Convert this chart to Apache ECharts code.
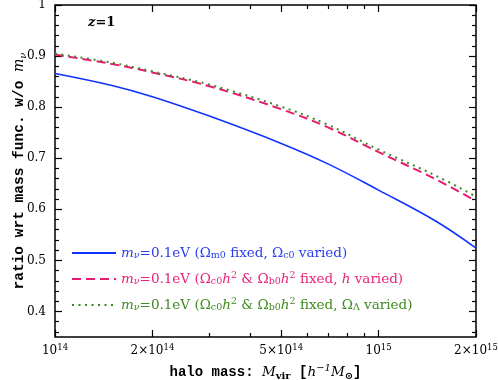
<!DOCTYPE html>
<html>
<head>
<meta charset="utf-8">
<script src="https://cdn.jsdelivr.net/npm/echarts@6/dist/echarts.min.js"></script>
<style>html,body{margin:0;padding:0;background:#fff}#c{width:498px;height:380px}</style>
</head>
<body>
<div id="c"></div>
<script>
// halo mass [h^-1 Msun]
var masses = [1e14, 1.5e14, 2e14, 3e14, 5e14, 7e14, 1e15, 1.5e15, 2e15];
// ratio with m_nu = 0.1 eV relative to without
var ratioOmFixed   = [0.866, 0.8425, 0.8205, 0.7825, 0.729, 0.6885, 0.6375, 0.577, 0.524];
var ratioHVaried   = [0.903, 0.8845, 0.868, 0.841, 0.796, 0.760, 0.712, 0.659, 0.616];
var ratioOLVaried  = [0.905, 0.887, 0.870, 0.844, 0.801, 0.765, 0.717, 0.666, 0.625];

var xMajorTicks = [1e14, 2e14, 5e14, 1e15, 2e15];
var xTickLabels = ['{n|10}{p|14}', '{n|2×10}{p|14}', '{n|5×10}{p|14}', '{n|10}{p|15}', '{n|2×10}{p|15}'];
var xMinorTicks = [3e14, 4e14, 6e14, 7e14, 8e14, 9e14];
var yMajorTicks = [0.4, 0.5, 0.6, 0.7, 0.8, 0.9, 1.0];
var yTickLabels = ['0.4', '0.5', '0.6', '0.7', '0.8', '0.9', '1'];
var yMinorTicks = [0.36, 0.38, 0.42, 0.44, 0.46, 0.48, 0.52, 0.54, 0.56, 0.58, 0.62, 0.64, 0.66, 0.68,
                   0.72, 0.74, 0.76, 0.78, 0.82, 0.84, 0.86, 0.88, 0.92, 0.94, 0.96, 0.98];

var FONT = 'DejaVu Serif';
var MONO = 'Liberation Mono';
var lg = function (v) { return Math.log10(v); };
var XMIN = lg(1e14), XMAX = lg(2e15), YMIN = 0.35, YMAX = 1.0;

function pairs(ys) { return masses.map(function (m, i) { return [lg(m), ys[i]]; }); }

function richSet(prefix, color) {
  var o = {};
  o[prefix + 'n'] = {fontFamily: FONT, fontSize: 13.5, color: color, lineHeight: 16, verticalAlign: 'middle'};
  o[prefix + 'i'] = {fontFamily: FONT, fontSize: 13.5, fontStyle: 'italic', color: color, lineHeight: 16, verticalAlign: 'middle'};
  o[prefix + 's'] = {fontFamily: FONT, fontSize: 9.5, color: color, lineHeight: 9, verticalAlign: 'bottom'};
  o[prefix + 'si'] = {fontFamily: FONT, fontSize: 9.5, fontStyle: 'italic', color: color, lineHeight: 9, verticalAlign: 'bottom'};
  o[prefix + 'p'] = {fontFamily: FONT, fontSize: 9.5, color: color, lineHeight: 9, verticalAlign: 'top'};
  return o;
}
var BLUE = '#1133ff', PINK = '#e8196f', GREEN = '#3a8a22';
var BLUE_T = '#2a3df0', PINK_T = '#e8237a', GREEN_T = '#3f8a22';
var legendRich = Object.assign({}, richSet('b', BLUE_T), richSet('r', PINK_T), richSet('g', GREEN_T));

var names = ['s1', 's2', 's3'];
var legendTexts = {
  s1: '{bi|m}{bsi|ν}{bn|=0.1eV (Ω}{bs|m0}{bn| fixed, Ω}{bs|c0}{bn| varied)}',
  s2: '{ri|m}{rsi|ν}{rn|=0.1eV (Ω}{rs|c0}{ri|h}{rp|2}{rn| & Ω}{rs|b0}{ri|h}{rp|2}{rn| fixed, }{ri|h}{rn| varied)}',
  s3: '{gi|m}{gsi|ν}{gn|=0.1eV (Ω}{gs|c0}{gi|h}{gp|2}{gn| & Ω}{gs|b0}{gi|h}{gp|2}{gn| fixed, Ω}{gs|Λ}{gn| varied)}'
};

var tickLine = {color: '#000', width: 1.2};
function xAxisDef(pos, ticks, len, labels) {
  return {
    type: 'value', position: pos, min: XMIN, max: XMAX,
    axisLine: {show: false}, splitLine: {show: false},
    axisTick: {show: true, inside: true, length: len, lineStyle: tickLine, customValues: ticks.map(lg)},
    axisLabel: labels ? {
      show: true, margin: 6, customValues: ticks.map(lg),
      formatter: function (v) {
        var best = 0, d = 1e9;
        xMajorTicks.forEach(function (t, i) { var dd = Math.abs(lg(t) - v); if (dd < d) { d = dd; best = i; } });
        return xTickLabels[best];
      },
      rich: {
        n: {fontFamily: FONT, fontSize: 12, color: '#000', lineHeight: 14, verticalAlign: 'bottom'},
        p: {fontFamily: FONT, fontSize: 8.5, color: '#000', lineHeight: 8, verticalAlign: 'top'}
      }
    } : {show: false}
  };
}
function yAxisDef(pos, ticks, len, labels) {
  return {
    type: 'value', position: pos, min: YMIN, max: YMAX,
    axisLine: {show: false}, splitLine: {show: false},
    axisTick: {show: true, inside: true, length: len, lineStyle: tickLine, customValues: ticks},
    axisLabel: labels ? {
      show: true, margin: 9, customValues: ticks,
      fontFamily: FONT, fontSize: 12, color: '#000',
      formatter: function (v) {
        var best = 0, d = 1e9;
        yMajorTicks.forEach(function (t, i) { var dd = Math.abs(t - v); if (dd < d) { d = dd; best = i; } });
        return yTickLabels[best];
      }
    } : {show: false}
  };
}

var xa0 = xAxisDef('bottom', xMajorTicks, 7, true);
xa0.name = '{b|halo mass: }{mi|M}{ms|vir}{b| [}{mi|h}{mp|−1}{mi|M}{ms|⊙}{b|]}';
xa0.nameLocation = 'middle';
xa0.nameGap = 26;
xa0.nameMoveOverlap = false;
xa0.nameTextStyle = {
  rich: {
    b: {fontFamily: MONO, fontSize: 14, fontWeight: 'bold', color: '#000', lineHeight: 18, verticalAlign: 'middle'},
    mi: {fontFamily: FONT, fontSize: 13.5, fontStyle: 'italic', color: '#000', lineHeight: 18, verticalAlign: 'middle'},
    ms: {fontFamily: FONT, fontSize: 10, fontWeight: 'bold', color: '#000', lineHeight: 10, verticalAlign: 'bottom'},
    mp: {fontFamily: FONT, fontSize: 10, fontStyle: 'italic', color: '#000', lineHeight: 10, verticalAlign: 'top'}
  }
};

var ya0 = yAxisDef('left', yMajorTicks, 7, true);
ya0.name = '{b|ratio wrt mass func. w/o }{mi|m}{ms|ν}';
ya0.nameLocation = 'middle';
ya0.nameRotate = 90;
ya0.nameGap = 27;
ya0.nameMoveOverlap = false;
ya0.nameTextStyle = {
  rich: {
    b: {fontFamily: MONO, fontSize: 14.5, fontWeight: 'bold', color: '#000', lineHeight: 18, verticalAlign: 'middle'},
    mi: {fontFamily: FONT, fontSize: 14, fontStyle: 'italic', color: '#000', lineHeight: 18, verticalAlign: 'middle'},
    ms: {fontFamily: FONT, fontSize: 10, fontStyle: 'italic', color: '#000', lineHeight: 10, verticalAlign: 'bottom'}
  }
};

var chart = echarts.init(document.getElementById('c'), null, {renderer: 'canvas'});
chart.setOption({
  animation: false,
  backgroundColor: '#fff',
  grid: {left: 55, right: 22, top: 5, bottom: 43, outerBoundsMode: 'none', containLabel: false,
         show: true, borderColor: '#000', borderWidth: 1.5, backgroundColor: 'transparent'},
  xAxis: [
    xa0,
    xAxisDef('bottom', xMinorTicks, 4, false),
    xAxisDef('top', xMajorTicks, 7, false),
    xAxisDef('top', xMinorTicks, 4, false)
  ],
  yAxis: [
    ya0,
    yAxisDef('left', yMinorTicks, 4, false),
    yAxisDef('right', yMajorTicks, 7, false),
    yAxisDef('right', yMinorTicks, 4, false)
  ],
  legend: {
    orient: 'vertical', left: 66, top: 241, itemGap: 10, itemWidth: 44, itemHeight: 16,
    data: names,
    formatter: function (n) { return legendTexts[n]; },
    textStyle: {rich: legendRich},
    itemStyle: {opacity: 0},
    selectedMode: false
  },
  graphic: [{
    type: 'text', left: 88, top: 16,
    style: {
      rich: {
        zi: {fontFamily: FONT, fontSize: 13, fontStyle: 'italic', fontWeight: 'bold', fill: '#000'},
        zn: {fontFamily: FONT, fontSize: 13, fontWeight: 'bold', fill: '#000'}
      },
      text: '{zi|z}{zn|=1}'
    }
  }],
  series: [
    {name: 's1', type: 'line', data: pairs(ratioOmFixed), smooth: 0.4, symbol: 'none',
     lineStyle: {color: BLUE, width: 1.6, type: 'solid'}, itemStyle: {color: BLUE}},
    {name: 's2', type: 'line', data: pairs(ratioHVaried), smooth: 0.4, symbol: 'none',
     lineStyle: {color: PINK, width: 2, type: [9, 5]}, itemStyle: {color: PINK}},
    {name: 's3', type: 'line', data: pairs(ratioOLVaried), smooth: 0.4, symbol: 'none',
     lineStyle: {color: GREEN, width: 2, type: [2, 4.5]}, itemStyle: {color: GREEN}}
  ]
});
</script>
</body>
</html>
